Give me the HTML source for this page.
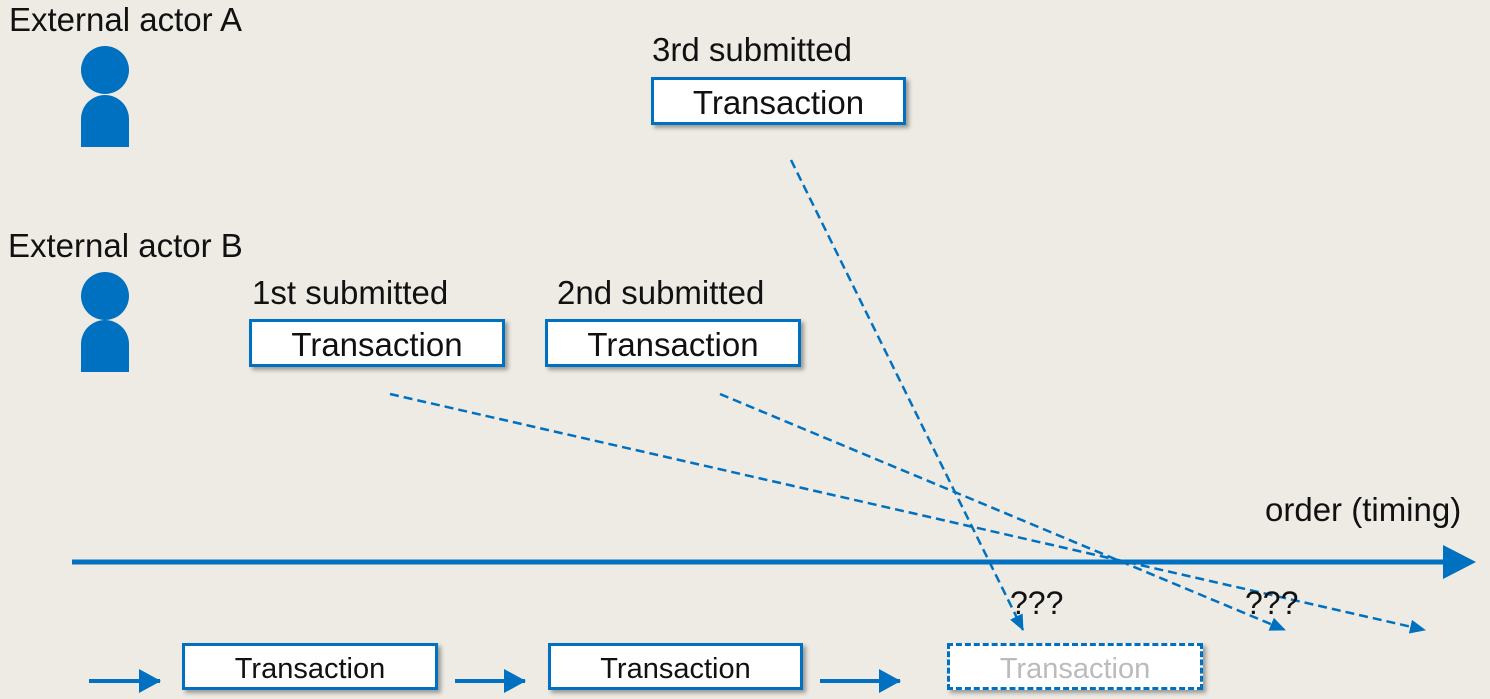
<!DOCTYPE html>
<html><head><style>
body{margin:0;width:1490px;height:699px;background:#EEEBE4;overflow:hidden;position:relative;font-family:"Liberation Sans",Arial,sans-serif}
.t{position:absolute;color:#111;white-space:nowrap;line-height:1;font-size:33px}
.box{position:absolute;background:#fff;border:3px solid #0070C0;box-sizing:border-box;text-align:center;color:#111;box-shadow:3px 3px 4px rgba(0,0,0,.35);font-size:33px;line-height:46px}
.sb{font-size:29px;line-height:47px}
</style></head><body>
<svg width="1490" height="699" style="position:absolute;left:0;top:0">
<defs><marker id="a" markerWidth="16" markerHeight="14" refX="15" refY="7" orient="auto" markerUnits="userSpaceOnUse"><path d="M0,0 L16,7 L0,14z" fill="#0070C0"/></marker>
<marker id="s" markerWidth="22" markerHeight="24" refX="21" refY="12" orient="auto" markerUnits="userSpaceOnUse"><path d="M0,0 L22,12 L0,24z" fill="#0070C0"/></marker></defs>
<g fill="#0070C0">
<circle cx="105" cy="70" r="24"/><path d="M81,147 V119 A24,24 0 0 1 129,119 V147z"/>
<circle cx="105" cy="296" r="24"/><path d="M81,372 V344 A24,24 0 0 1 129,344 V372z"/>
<path d="M1443,545 L1476,562 L1443,579z"/>
</g>
<line x1="72" y1="562" x2="1446" y2="562" stroke="#0070C0" stroke-width="5"/>
<g stroke="#0070C0" stroke-width="4"><line x1="89" y1="681" x2="160" y2="681" marker-end="url(#s)"/><line x1="455" y1="681" x2="525" y2="681" marker-end="url(#s)"/><line x1="820" y1="681" x2="900" y2="681" marker-end="url(#s)"/></g>
<g stroke="#0070C0" stroke-width="2.5" stroke-dasharray="9,5" fill="none">
<line x1="791" y1="160" x2="1023" y2="630" marker-end="url(#a)"/>
<line x1="720" y1="394" x2="1285" y2="630" marker-end="url(#a)"/>
<line x1="390" y1="394" x2="1425" y2="630" marker-end="url(#a)"/>
</g>
</svg>
<div class="t" style="left:9px;top:3px">External actor A</div>
<div class="t" style="left:8px;top:229px">External actor B</div>
<div class="t" style="left:652px;top:33px">3rd submitted</div>
<div class="t" style="left:252px;top:276px">1st submitted</div>
<div class="t" style="left:557px;top:276px">2nd submitted</div>
<div class="t" style="left:1265px;top:493px">order (timing)</div>
<div class="t" style="left:1010px;top:587px;font-size:32px">???</div>
<div class="t" style="left:1245px;top:587px;font-size:32px">???</div>
<div class="box" style="left:651px;top:77px;width:255px;height:48px">Transaction</div>
<div class="box" style="left:249px;top:319px;width:256px;height:48px">Transaction</div>
<div class="box" style="left:545px;top:319px;width:256px;height:48px">Transaction</div>
<div class="box sb" style="left:182px;top:643px;width:256px;height:47px">Transaction</div>
<div class="box sb" style="left:548px;top:643px;width:255px;height:47px">Transaction</div>
<div class="box sb" style="left:947px;top:643px;width:256px;height:47px;border-style:dashed;color:#bbb">Transaction</div>
</body></html>
